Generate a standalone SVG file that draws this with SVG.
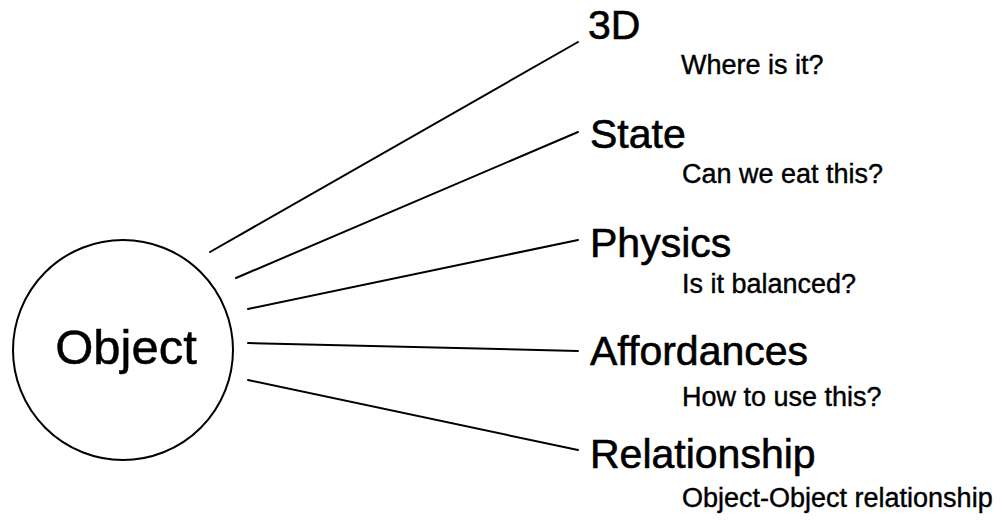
<svg xmlns="http://www.w3.org/2000/svg" width="1006" height="521" viewBox="0 0 1006 521">
  <style>
    .edge { stroke: #000; stroke-width: 2; fill: none; stroke-linecap: round; }
    .big { font-family: "Liberation Sans", Arial, sans-serif; font-size: 41px; fill: #000; stroke: #000; stroke-width: 0.6; }
    .sub { font-family: "Liberation Sans", Arial, sans-serif; font-size: 27px; fill: #000; stroke: #000; stroke-width: 0.4; }
    .center { font-family: "Liberation Sans", Arial, sans-serif; font-size: 49px; fill: #000; stroke: #000; stroke-width: 0.5; }
  </style>
  <rect width="1006" height="521" fill="#fff"/>
  <g id="connectors">
    <line class="edge" x1="210" y1="252" x2="578" y2="42"/>
    <line class="edge" x1="236" y1="278" x2="578" y2="132"/>
    <line class="edge" x1="248" y1="309" x2="578" y2="240"/>
    <line class="edge" x1="248" y1="343" x2="578" y2="351"/>
    <line class="edge" x1="248" y1="380" x2="578" y2="450"/>
  </g>
  <g id="object">
    <circle cx="123" cy="350" r="110" fill="#fff" stroke="#000" stroke-width="2"/>
    <text class="center" x="126" y="364" text-anchor="middle">Object</text>
  </g>
  <g id="node-3d">
    <text class="big" x="588" y="39">3D</text>
    <text class="sub" x="681" y="74">Where is it?</text>
  </g>
  <g id="node-state">
    <text class="big" x="590" y="148">State</text>
    <text class="sub" x="682" y="183">Can we eat this?</text>
  </g>
  <g id="node-physics">
    <text class="big" x="590" y="257">Physics</text>
    <text class="sub" x="682" y="293">Is it balanced?</text>
  </g>
  <g id="node-affordances">
    <text class="big" x="590" y="365">Affordances</text>
    <text class="sub" x="682" y="406">How to use this?</text>
  </g>
  <g id="node-relationship">
    <text class="big" x="590" y="468">Relationship</text>
    <text class="sub" x="682" y="507">Object-Object relationship</text>
  </g>
</svg>
